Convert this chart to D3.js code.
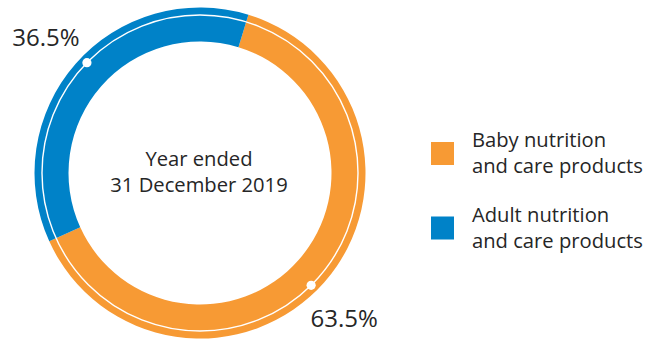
<!DOCTYPE html>
<html>
<head>
<meta charset="utf-8">
<script src="https://cdn.jsdelivr.net/npm/d3@7"></script>
<style>
  html, body { margin: 0; padding: 0; background: #fff; }
  svg { display: block; }
  text { font-family: "Open Sans", "DejaVu Sans", sans-serif; fill: #262626; }
</style>
</head>
<body>
<svg id="chart" width="657" height="340"></svg>
<script>
// ---- data ----
const categories = ["Baby nutrition and care products", "Adult nutrition and care products"];
const legendLines = [["Baby nutrition", "and care products"], ["Adult nutrition", "and care products"]];
const values = [63.5, 36.5];
const valueLabels = ["63.5%", "36.5%"];
const centerLines = ["Year ended", "31 December 2019"];
const colors = ["#F79A34", "#0082C8"];

// ---- layout ----
const W = 657, H = 340;
const cx = 200, cy = 173;
const outerR = 165.5, innerR = 131.5, lineR = 158, labelR = 205;
const startDeg = 17;
const dotShiftDeg = [4, 3];
const labelShiftDeg = [4, 0];

const svg = d3.select("#chart");
const g = svg.append("g").attr("transform", `translate(${cx},${cy})`);

const color = d3.scaleOrdinal().domain(categories).range(colors);

const pie = d3.pie().sort(null).value(d => d.value)
  .startAngle(startDeg * Math.PI / 180)
  .endAngle(startDeg * Math.PI / 180 + 2 * Math.PI);

const data = categories.map((c, i) => ({ cat: c, value: values[i], label: valueLabels[i] }));
const arcs = pie(data);

const arc = d3.arc().innerRadius(innerR).outerRadius(outerR);

g.selectAll("path.slice").data(arcs).join("path")
  .attr("class", "slice")
  .attr("d", arc)
  .attr("fill", d => color(d.data.cat));

// thin white ring line
g.append("circle").attr("r", lineR).attr("fill", "none")
  .attr("stroke", "#fff").attr("stroke-width", 1.4);

const mid = d => (d.startAngle + d.endAngle) / 2;
const rad = deg => deg * Math.PI / 180;
const pt = (a, r) => [Math.sin(a) * r, -Math.cos(a) * r];

g.selectAll("circle.dot").data(arcs).join("circle")
  .attr("class", "dot")
  .attr("cx", (d, i) => pt(mid(d) + rad(dotShiftDeg[i]), lineR)[0])
  .attr("cy", (d, i) => pt(mid(d) + rad(dotShiftDeg[i]), lineR)[1])
  .attr("r", 4.6)
  .attr("fill", "#fff");

g.selectAll("text.val").data(arcs).join("text")
  .attr("class", "val")
  .attr("x", (d, i) => pt(mid(d) + rad(labelShiftDeg[i]), labelR)[0])
  .attr("y", (d, i) => pt(mid(d) + rad(labelShiftDeg[i]), labelR)[1])
  .attr("text-anchor", "middle")
  .attr("dy", "0.36em")
  .style("font-size", "24px")
  .text(d => d.data.label);

// center text
g.selectAll("text.center").data(centerLines).join("text")
  .attr("class", "center")
  .attr("x", -1)
  .attr("y", (d, i) => -7 + i * 26)
  .attr("text-anchor", "middle")
  .style("font-size", "20.2px")
  .text(d => d);

// legend
const legend = svg.append("g").attr("transform", "translate(431,142)");
const items = legend.selectAll("g.item").data(categories).join("g")
  .attr("class", "item")
  .attr("transform", (d, i) => `translate(0,${i * 74.5})`);
items.append("rect").attr("width", 23).attr("height", 23)
  .attr("fill", d => color(d));
items.each(function(d, i) {
  const t = d3.select(this).append("text").style("font-size", "20.2px");
  legendLines[i].forEach((line, j) => {
    t.append("tspan").attr("x", 41).attr("y", 5 + j * 26).text(line);
  });
});
</script>
</body>
</html>
